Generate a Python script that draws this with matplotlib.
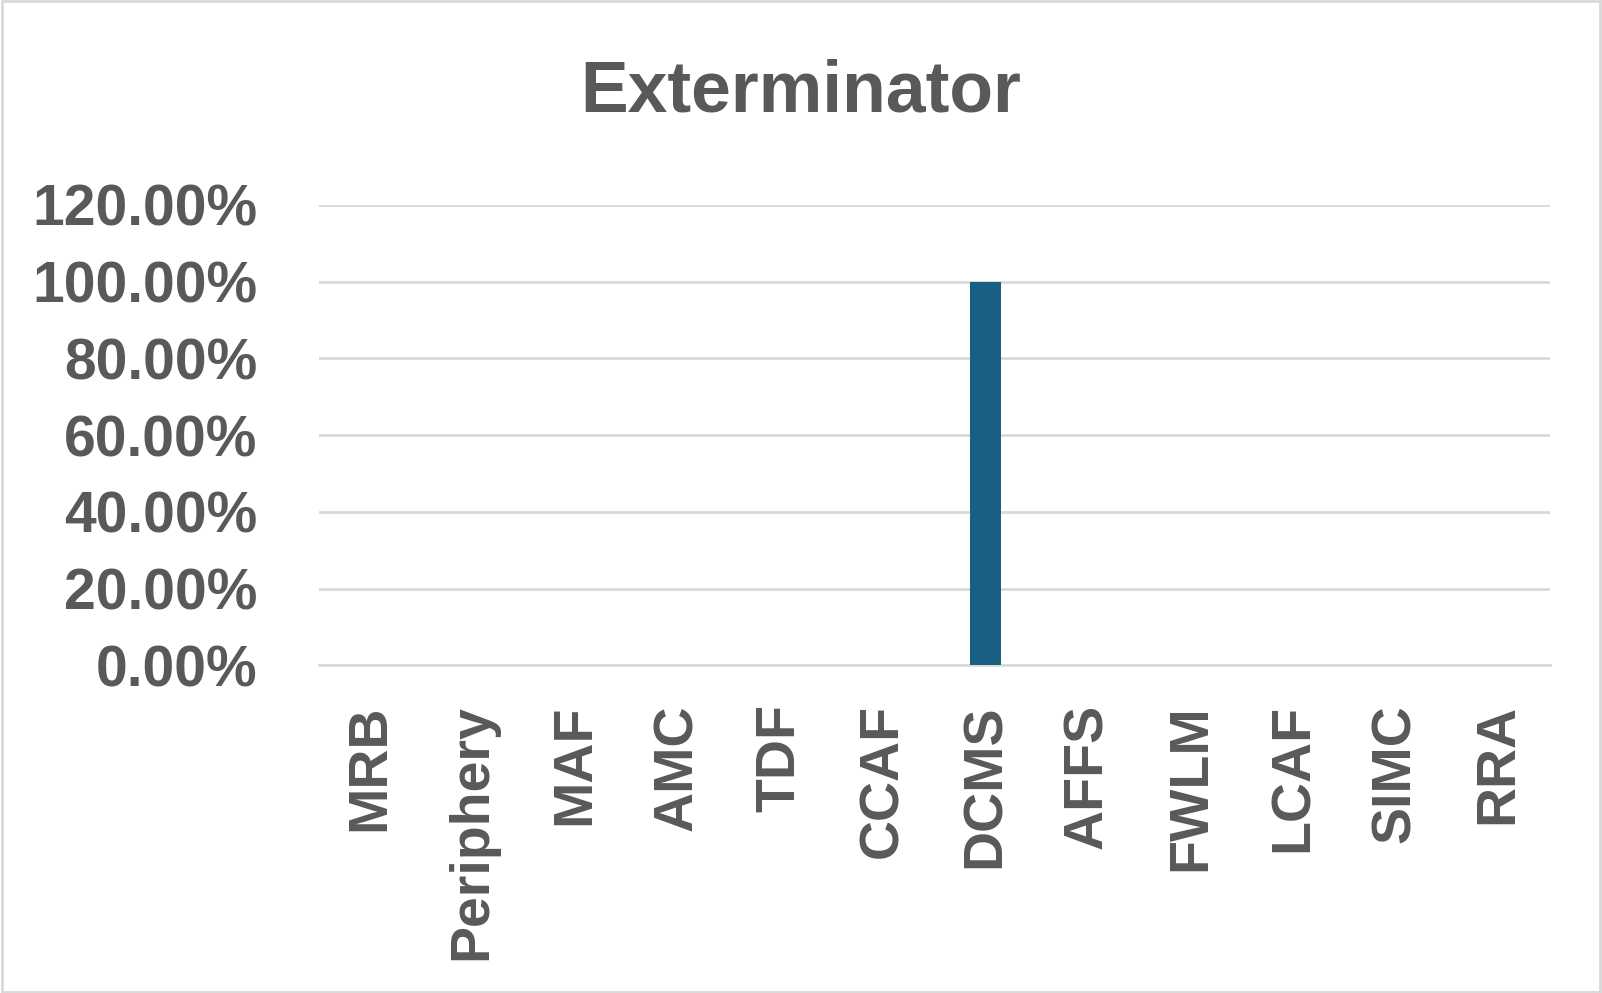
import numpy as np
import matplotlib.pyplot as plt
from matplotlib.ticker import FuncFormatter
from matplotlib.patches import Rectangle

# datos del grafico
categorias = ['MRB', 'Periphery', 'MAF', 'AMC', 'TDF', 'CCAF', 'DCMS',
              'AFFS', 'FWLM', 'LCAF', 'SIMC', 'RRA']
valores = [0, 0, 0, 0, 0, 0, 1.0, 0, 0, 0, 0, 0]
ticks_y = [0, 0.2, 0.4, 0.6, 0.8, 1.0, 1.2]

gris = '#595959'
plt.rcParams['font.family'] = ['Liberation Sans', 'DejaVu Sans']

fig = plt.figure(figsize=(16.02, 9.93), dpi=100)
ax = fig.add_axes([0.199, 0.330, 0.7685, 0.4636])

x = np.arange(len(categorias))
ax.bar(x, valores, width=0.3, color='#195E83', zorder=3)

ax.set_xlim(-0.5, len(categorias) - 0.5)
ax.set_ylim(0, 1.2)
ax.set_yticks(ticks_y)
ax.yaxis.set_major_formatter(FuncFormatter(lambda v, p: f'{v*100:.2f}%'))
ax.set_xticks(x)
ax.set_xticklabels(categorias, rotation=90, va='top', ha='center')

# cuadricula horizontal
ax.grid(axis='y', color='#D9D9D9', linewidth=2, zorder=0)
for s in ['top', 'right', 'left']:
    ax.spines[s].set_visible(False)
ax.spines['bottom'].set_color('#D9D9D9')
ax.spines['bottom'].set_linewidth(2)

ax.tick_params(axis='both', length=0, labelcolor=gris)
ax.tick_params(axis='x', pad=28, labelsize=40)
ax.tick_params(axis='y', pad=44, labelsize=41)
for lab in ax.get_xticklabels() + ax.get_yticklabels():
    lab.set_fontweight('bold')

fig.text(0.5, 0.907, 'Exterminator', ha='center', va='center',
         fontsize=51.5, fontweight='bold', color=gris)

# borde de la figura
fig.patches.append(Rectangle((0.001, 0.001), 0.998, 0.998, transform=fig.transFigure,
                             fill=False, edgecolor='#D9D9D9', linewidth=2))

fig.savefig('out.png', dpi=100)
